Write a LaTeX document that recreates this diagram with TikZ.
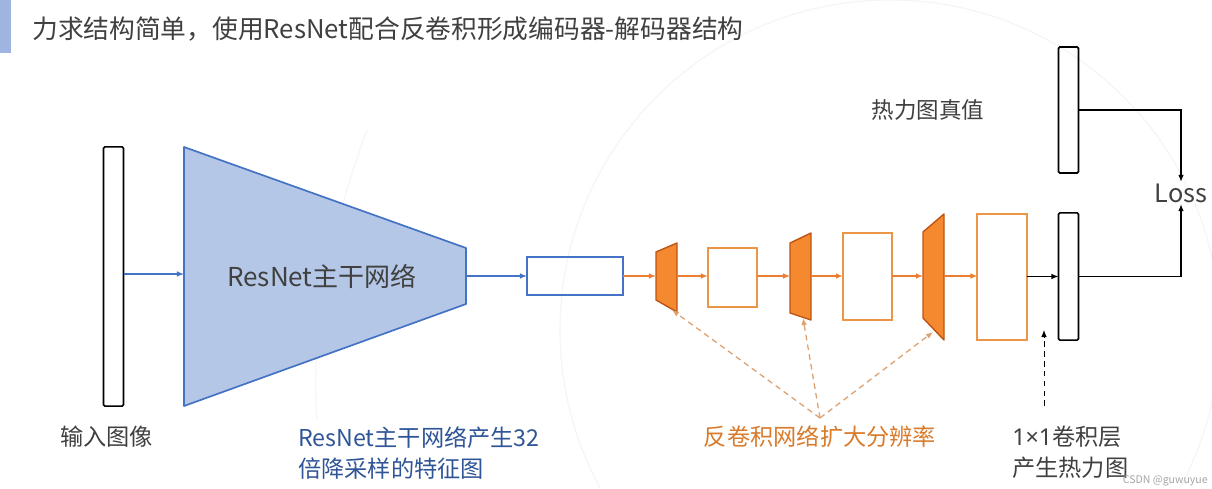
\documentclass[tikz,border=0pt]{standalone}
\usepackage{fontspec}
\setmainfont{Noto Sans CJK SC}
\newfontfamily\latinsans{Noto Sans}
\usepackage{xcolor}
\usetikzlibrary{arrows.meta,positioning}
\definecolor{encblue}    {RGB}{ 68, 114, 196}
\definecolor{encfill}    {RGB}{180, 199, 231}
\definecolor{accentblue} {RGB}{157, 181, 224}
\definecolor{decorange}  {RGB}{237, 125,  49}
\definecolor{decfill}    {RGB}{244, 137,  48}
\definecolor{decedge}    {RGB}{190,  85,  20}
\definecolor{boxorange}  {RGB}{235, 150,  70}
\definecolor{hintorange} {RGB}{222, 160, 110}
\definecolor{labelblue}  {RGB}{ 47,  85, 151}
\definecolor{labelorange}{RGB}{217, 123,  43}
\definecolor{textgray}   {RGB}{ 64,  64,  64}

\tikzset{
  bar/.style={draw=black, line width=1.2pt, rounded corners=1pt, inner sep=0, outer sep=0, minimum width=0.5cm},
  encbox/.style={draw=encblue, line width=1.2pt, inner sep=0, outer sep=0},
  decbox/.style={draw=boxorange, line width=1.3pt, inner sep=0, outer sep=0, minimum width=1.23cm},
  deconv/.style={fill=decfill, draw=decedge, line width=1pt, line join=round},
  encarrow/.style={encblue, line width=0.9pt, -{Latex[length=5pt,width=4pt]}},
  decarrow/.style={decorange, line width=0.9pt, -{Latex[length=5pt,width=4pt]}},
  blkarrow/.style={black, line width=0.9pt, -{Latex[length=5pt,width=4pt]}},
  hint/.style={hintorange, line width=0.9pt, dash pattern=on 4pt off 3pt, -{Latex[length=5pt,width=4pt]}},
  caption/.style={font=\fontsize{16.5}{22}\selectfont, inner sep=0, align=left}
}

\begin{document}
\begin{tikzpicture}[x=0.025cm, y=-0.025cm]
  \useasboundingbox (0,0) rectangle (1212,488);
  \fill[white] (0,0) rectangle (1212,488);
  % faint background arcs
  \draw[gray!8, line width=0.8pt] (890,330) circle (330);
  \draw[gray!7, line width=0.8pt] (367,130) .. controls (330,230) and (310,330) .. (317,420);

  % title
  \fill[accentblue] (0,0) rectangle (11,53);
  \node[anchor=west, text=textgray, font=\fontsize{18.3}{22}\selectfont, inner sep=0] (title) at (32,29)
    {力求结构简单，使用ResNet配合反卷积形成编码器-解码器结构};

  % encoder
  \node[bar, minimum height=6.48cm] (img) at (113.5,276.5) {};
  \filldraw[fill=encfill, draw=encblue, line width=1.2pt, line join=round]
    (184,147) -- (466,248) -- (466,304) -- (184,406) -- cycle;
  \coordinate (enc-in)  at (184,274);
  \coordinate (enc-out) at (466,276);
  \node[text=textgray, font=\fontsize{18.5}{22}\selectfont] (enc) at (322,276) {ResNet主干网络};
  \node[encbox, minimum width=2.4cm, minimum height=0.95cm] (feat) at (575,276) {};

  \draw[encarrow] (img.east |- enc-in) -- (enc-in);
  \draw[encarrow] (enc-out) -- (feat.west);

  % decoder
  \filldraw[deconv] (656,252) -- (677,243) -- (677,312) -- (656,300) -- cycle;
  \coordinate (up1-in)   at (656,276);
  \coordinate (up1-out)  at (677,276);
  \coordinate (up1-foot) at (672,310);
  \node[decbox, minimum height=1.48cm] (dec1) at (732.5,277.5) {};
  \filldraw[deconv] (790,243) -- (811,233) -- (811,320) -- (790,313) -- cycle;
  \coordinate (up2-in)   at (790,276);
  \coordinate (up2-out)  at (811,276);
  \coordinate (up2-foot) at (803,318);
  \node[decbox, minimum height=2.18cm] (dec2) at (867.5,276.5) {};
  \filldraw[deconv] (923,232) -- (944,214) -- (944,340) -- (923,318) -- cycle;
  \coordinate (up3-in)   at (923,276);
  \coordinate (up3-out)  at (944,276);
  \coordinate (up3-foot) at (933,332);
  \node[decbox, minimum height=3.15cm] (dec3) at (1002,277) {};

  \draw[decarrow] (feat.east) -- (up1-in);
  \draw[decarrow] (up1-out) -- (dec1.west |- up1-out);
  \draw[decarrow] (dec1.east |- up2-in) -- (up2-in);
  \draw[decarrow] (up2-out) -- (dec2.west |- up2-out);
  \draw[decarrow] (dec2.east |- up3-in) -- (up3-in);
  \draw[decarrow] (up3-out) -- (dec3.west |- up3-out);

  % heatmap and loss
  \node[bar, minimum height=3.18cm] (heat) at (1068.5,276.5) {};
  \node[bar, minimum height=3.15cm] (truth) at (1068.5,110) {};
  \node[text=textgray, font=\fontsize{18}{22}\selectfont, inner sep=1pt] (loss) at (1181,193) {Loss};
  \node[text=textgray, font=\fontsize{16}{20}\selectfont] (truthlbl) at (928,110) {热力图真值};

  \draw[blkarrow] (dec3.east |- heat.west) -- (heat.west);
  \draw[blkarrow] (truth.east) -| (loss.north);
  \draw[blkarrow] (heat.east) -| (loss.south);

  % captions
  \node[caption, text=textgray, anchor=west] (lbl-img) at (60,437) {输入图像};
  \node[caption, text=labelblue, anchor=north west] (lbl-enc) at (298,426) {ResNet主干网络产生32\\倍降采样的特征图};
  \node[caption, text=labelorange] (lbl-dec) at (820,437) {反卷积网络扩大分辨率};
  \node[caption, text=textgray, anchor=north west] (lbl-conv) at (1012,426) {{\latinsans 1×1}卷积层\\产生热力图};
  \node[text=gray!70, font=\fontsize{7.5}{9}\selectfont, anchor=east, inner sep=0] (mark) at (1208,481) {CSDN @guwuyue};

  \coordinate (hub) at (820,418);
  \draw[hint] (hub) -- (up1-foot);
  \draw[hint] (hub) -- (up2-foot);
  \draw[hint] (hub) -- (up3-foot);
  \coordinate (convtip) at (1044,330);
  \draw[blkarrow, line width=0.7pt, dash pattern=on 4pt off 3pt, shorten <=0.5cm] (lbl-conv.north -| convtip) -- (convtip);
\end{tikzpicture}
\end{document}
